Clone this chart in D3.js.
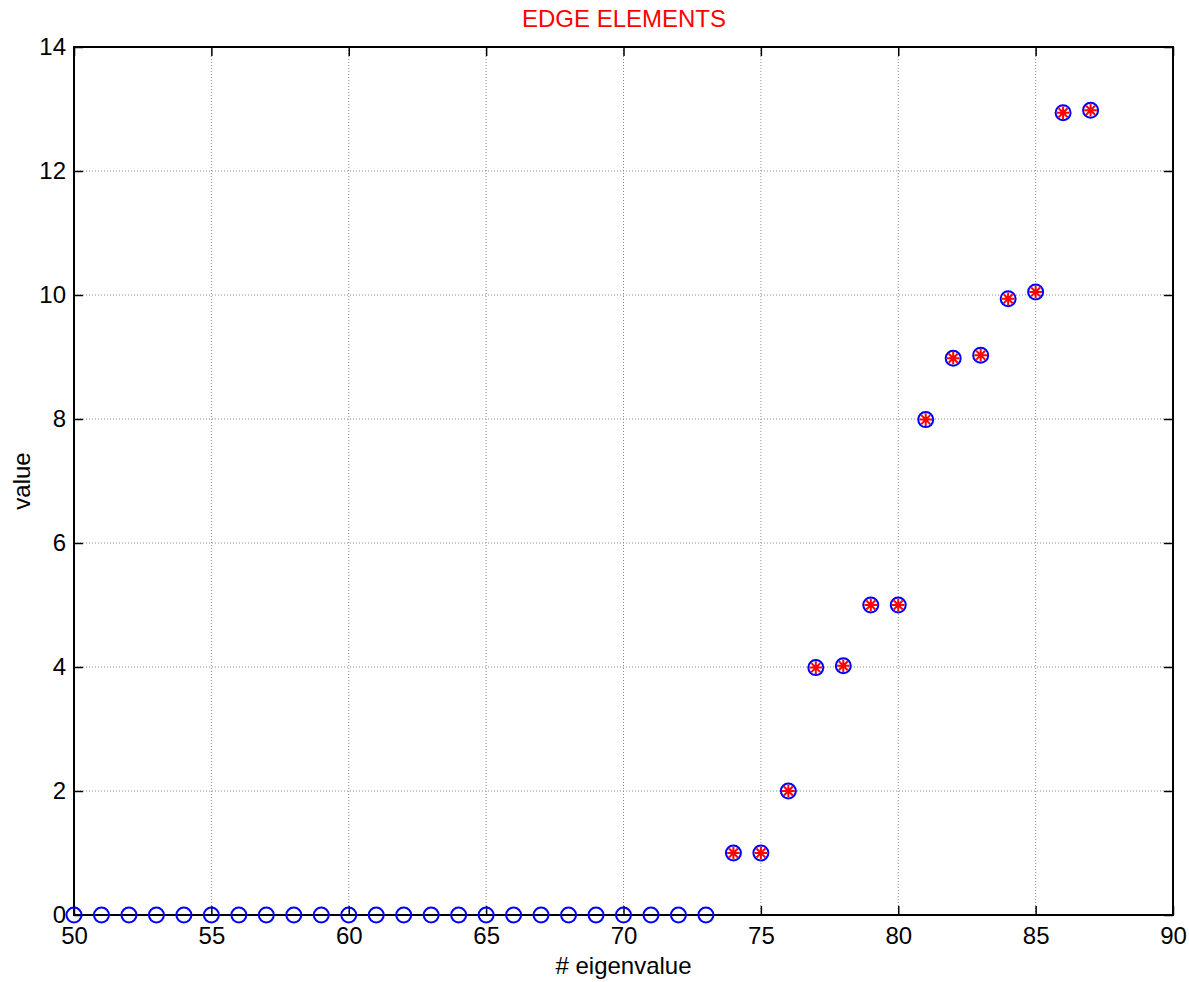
<!DOCTYPE html>
<html>
<head>
<meta charset="utf-8">
<script src="https://cdn.jsdelivr.net/npm/d3@7"></script>
<style>
  body { margin: 0; background: #fff; }
  text { font-family: "Liberation Sans", Arial, sans-serif; }
</style>
</head>
<body>
<div id="chart"></div>
<script>
// data
const eigIndex = d3.range(50, 88);
const eigValues = [
  0, 0, 0, 0, 0, 0, 0, 0, 0, 0,
  0, 0, 0, 0, 0, 0, 0, 0, 0, 0,
  0, 0, 0, 0,
  1.0, 1.0, 2.0, 3.99, 4.02, 5.0, 5.0, 7.99, 8.98, 9.03, 9.94, 10.05, 12.94, 12.98
];
const edgeIndex = d3.range(74, 88);
const edgeValues = [1.0, 1.0, 2.0, 3.99, 4.02, 5.0, 5.0, 7.99, 8.98, 9.03, 9.94, 10.05, 12.94, 12.98];
const xTicks = [50, 55, 60, 65, 70, 75, 80, 85, 90];
const yTicks = [0, 2, 4, 6, 8, 10, 12, 14];

const W = 1189, H = 982;
const margin = {left: 74, right: 16, top: 47, bottom: 67};
const iw = W - margin.left - margin.right;
const ih = H - margin.top - margin.bottom;

const svg = d3.select("#chart").append("svg")
    .attr("width", W)
    .attr("height", H);

const g = svg.append("g")
    .attr("transform", `translate(${margin.left},${margin.top})`);

const x = d3.scaleLinear().domain([50, 90]).range([0, iw]);
const y = d3.scaleLinear().domain([0, 14]).range([ih, 0]);

// grid
g.append("g").selectAll("line").data(xTicks.slice(1, -1)).join("line")
    .attr("x1", d => x(d)).attr("x2", d => x(d))
    .attr("y1", 0).attr("y2", ih)
    .attr("stroke", "#8a8a8a").attr("stroke-width", 1)
    .attr("stroke-dasharray", "1,2");
g.append("g").selectAll("line").data(yTicks.slice(1, -1)).join("line")
    .attr("y1", d => y(d)).attr("y2", d => y(d))
    .attr("x1", 0).attr("x2", iw)
    .attr("stroke", "#8a8a8a").attr("stroke-width", 1)
    .attr("stroke-dasharray", "1,2");

// axes, ticks pointing inward
const tickLen = 9;
const styleAxis = sel => {
  sel.select(".domain").remove();
  sel.selectAll("line").attr("stroke", "#000").attr("stroke-width", 1.5);
  sel.selectAll("text").attr("font-size", 24).attr("fill", "#000");
};

g.append("g").attr("transform", `translate(0,${ih})`)
    .call(d3.axisBottom(x).tickValues(xTicks).tickSizeInner(-tickLen).tickSizeOuter(0).tickPadding(12))
    .call(styleAxis);
g.append("g")
    .call(d3.axisTop(x).tickValues(xTicks).tickSizeInner(-tickLen).tickSizeOuter(0).tickFormat(""))
    .call(styleAxis);
g.append("g")
    .call(d3.axisLeft(y).tickValues(yTicks).tickSizeInner(-tickLen).tickSizeOuter(0).tickPadding(8))
    .call(styleAxis);
g.append("g").attr("transform", `translate(${iw},0)`)
    .call(d3.axisRight(y).tickValues(yTicks).tickSizeInner(-tickLen).tickSizeOuter(0).tickFormat(""))
    .call(styleAxis);

// frame
g.append("rect")
    .attr("width", iw).attr("height", ih)
    .attr("fill", "none").attr("stroke", "#000").attr("stroke-width", 2);

// blue circles
const pts = eigIndex.map((d, i) => ({x: d, v: eigValues[i]}));
g.append("g").selectAll("circle").data(pts).join("circle")
    .attr("cx", d => x(d.x)).attr("cy", d => y(d.v))
    .attr("r", 7.5)
    .attr("fill", "none").attr("stroke", "#0000ff").attr("stroke-width", 2);

// red asterisks
const edges = edgeIndex.map((d, i) => ({x: d, v: edgeValues[i]}));
const star = d3.symbol().type({
  draw(ctx, size) {
    const r = Math.sqrt(size);
    for (let k = 0; k < 4; k++) {
      const a = k * Math.PI / 4;
      ctx.moveTo(-r * Math.cos(a), -r * Math.sin(a));
      ctx.lineTo(r * Math.cos(a), r * Math.sin(a));
    }
  }
}).size(40);
g.append("g").selectAll("path").data(edges).join("path")
    .attr("transform", d => `translate(${x(d.x)},${y(d.v)})`)
    .attr("d", star)
    .attr("fill", "none").attr("stroke", "#ff0000").attr("stroke-width", 2);

// labels
svg.append("text")
    .attr("x", 624).attr("y", 27)
    .attr("text-anchor", "middle")
    .attr("font-size", 24).attr("fill", "#ff0000")
    .text("EDGE ELEMENTS");
svg.append("text")
    .attr("x", margin.left + iw / 2).attr("y", 974)
    .attr("text-anchor", "middle")
    .attr("font-size", 24).attr("fill", "#000")
    .text("# eigenvalue");
svg.append("text")
    .attr("transform", `translate(30,${margin.top + ih / 2}) rotate(-90)`)
    .attr("text-anchor", "middle")
    .attr("font-size", 24).attr("fill", "#000")
    .text("value");
</script>
</body>
</html>
